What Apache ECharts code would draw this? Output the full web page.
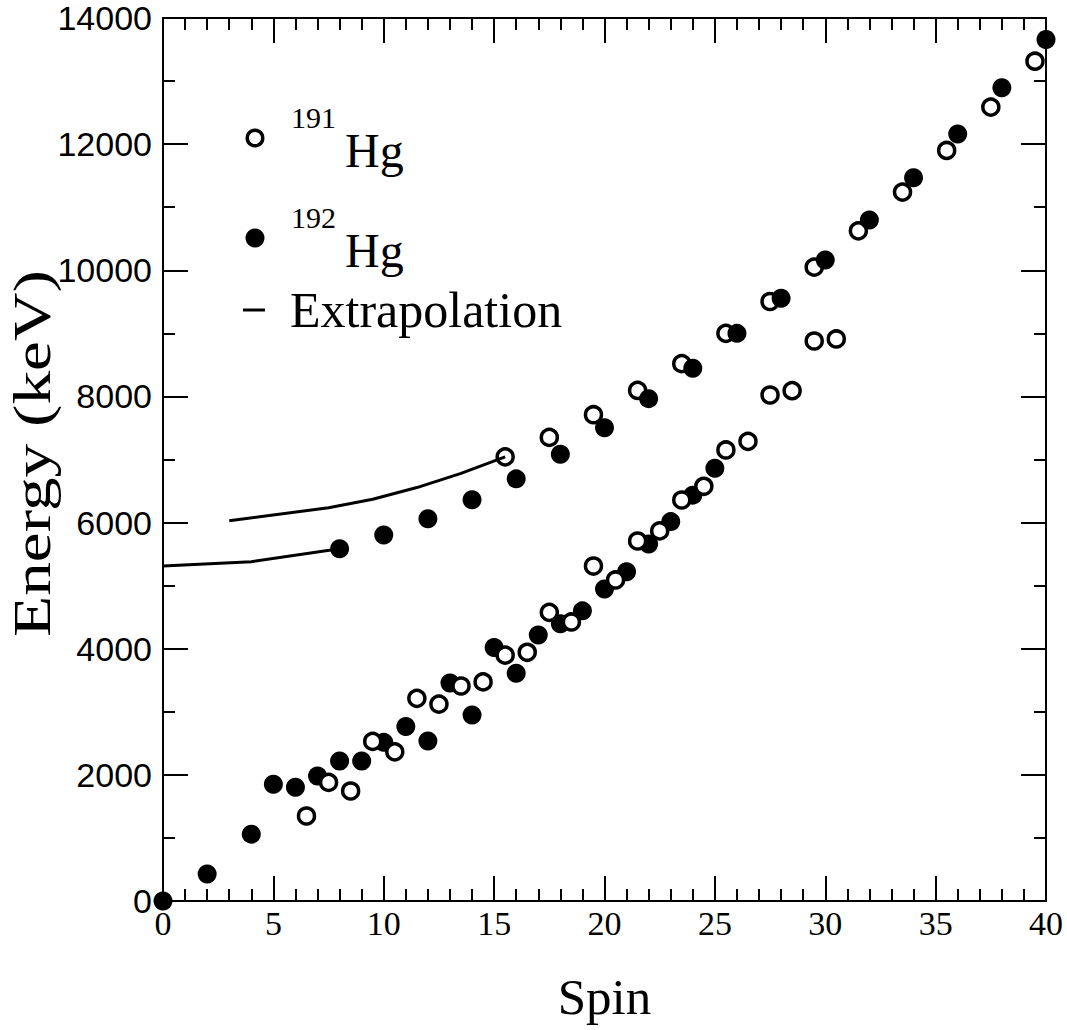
<!DOCTYPE html>
<html>
<head>
<meta charset="utf-8">
<script src="https://cdn.jsdelivr.net/npm/echarts@6/dist/echarts.min.js"></script>
<style>
html,body{margin:0;padding:0;background:#fff;}
#chart{width:1067px;height:1030px;}
</style>
</head>
<body>
<div id="chart"></div>
<script>
// ---- data ----
const spinRange = [0, 40];
const spinInterval = 5;
const energyRange = [0, 14000];
const energyInterval = 2000;

// 191Hg (open circles)
const hg191Ground = [
  [6.5,1348],[7.5,1880],[8.5,1744],[9.5,2530],[10.5,2365],[11.5,3213],[12.5,3121],
  [13.5,3409],[14.5,3474],[15.5,3898],[16.5,3943],[17.5,4577],[18.5,4424],[19.5,5311],
  [20.5,5090],[21.5,5708],[22.5,5868],[23.5,6358],[24.5,6575],[25.5,7151],[26.5,7288],
  [27.5,8023],[28.5,8091],[29.5,8879],[30.5,8911]
];
const hg191Band = [
  [15.5,7042],[17.5,7350],[19.5,7710],[21.5,8095],[23.5,8520],[25.5,9000],[27.5,9505],
  [29.5,10050],[31.5,10625],[33.5,11240],[35.5,11900],[37.5,12587],[39.5,13315]
];

// 192Hg (filled circles)
const hg192Ground = [
  [0,0],[2,428],[4,1060],[5,1850],[6,1805],[7,1982],[8,2220],[9,2220],[10,2515],
  [11,2768],[12,2537],[13,3455],[14,2950],[15,4018],[16,3612],[17,4218],[18,4395],
  [19,4600],[20,4947],[21,5220],[22,5660],[23,6015],[24,6435],[25,6862]
];
const hg192Band = [
  [8,5585],[10,5803],[12,6062],[14,6363],[16,6693],[18,7084],[20,7503],[22,7965],
  [24,8448],[26,9000],[28,9556],[30,10163],[32,10798],[34,11466],[36,12161],[38,12893],[40,13660]
];

// Extrapolation curves
const extrap191 = [[3,6030],[7.5,6235],[9.5,6370],[11.5,6555],[13.5,6780],[15.5,7042]];
const extrap192 = [[0,5310],[4,5380],[8,5585]];

const seriesNames = ['191Hg', '192Hg', 'Extrapolation'];

// ---- chart ----
const serif = 'Liberation Serif';
const sans = 'Liberation Sans';

const chart = echarts.init(document.getElementById('chart'), null, {renderer: 'svg'});

function xAxisBase(pos, showLabel) {
  return {
    type: 'value', position: pos,
    min: spinRange[0], max: spinRange[1], interval: spinInterval,
    axisLine: {show: true, onZero: false, lineStyle: {color: '#000', width: 2}},
    axisTick: {show: true, inside: true, length: 25, lineStyle: {color: '#000', width: 2}},
    minorTick: {show: true, splitNumber: 5, length: 12, lineStyle: {color: '#000', width: 2}},
    splitLine: {show: false}, minorSplitLine: {show: false},
    axisLabel: {show: showLabel, color: '#000', fontFamily: serif, fontSize: 34, margin: 5,
      formatter: v => String(v)}
  };
}
function yAxisBase(pos, showLabel) {
  return {
    type: 'value', position: pos,
    min: energyRange[0], max: energyRange[1], interval: energyInterval,
    axisLine: {show: true, onZero: false, lineStyle: {color: '#000', width: 2}},
    axisTick: {show: true, inside: true, length: 25, lineStyle: {color: '#000', width: 2}},
    minorTick: {show: true, splitNumber: 2, length: 12, lineStyle: {color: '#000', width: 2}},
    splitLine: {show: false}, minorSplitLine: {show: false},
    axisLabel: {show: showLabel, color: '#000', fontFamily: sans, fontSize: 34, margin: 11,
      formatter: v => String(v)}
  };
}

const xMain = xAxisBase('bottom', true);
xMain.name = 'Spin';
xMain.nameLocation = 'middle';
xMain.nameGap = 70;
xMain.nameTextStyle = {color: '#000', fontFamily: serif, fontSize: 51};

const openStyle = {color: '#fff', borderColor: '#000', borderWidth: 3.5, opacity: 1};
const fillStyle = {color: '#000', opacity: 1};

const supRich = {
  s: {fontFamily: serif, fontSize: 30, lineHeight: 20, verticalAlign: 'top', color: '#000'},
  b: {fontFamily: serif, fontSize: 48, lineHeight: 72, verticalAlign: 'bottom', color: '#000', padding: [0, 0, 0, 9]}
};

const option = {
  animation: false,
  backgroundColor: '#fff',
  grid: {left: 163, right: 21, top: 18, bottom: 129, containLabel: false, outerBoundsMode: 'none'},
  xAxis: [xMain, xAxisBase('top', false)],
  yAxis: [yAxisBase('left', true), yAxisBase('right', false)],
  legend: [
    {
      data: [seriesNames[0]], orient: 'vertical', left: 245.5, top: 102, padding: 0,
      itemWidth: 62, itemHeight: 15.5, icon: 'circle', selectedMode: false,
      itemStyle: {borderWidth: 3.5, opacity: 1},
      formatter: () => '{s|191}{b|Hg}',
      textStyle: {fontFamily: serif, color: '#000', rich: supRich}
    },
    {
      data: [seriesNames[1]], orient: 'vertical', left: 245.5, top: 202, padding: 0,
      itemWidth: 62, itemHeight: 19, icon: 'circle', selectedMode: false,
      itemStyle: {borderWidth: 0, opacity: 1},
      formatter: () => '{s|192}{b|Hg}',
      textStyle: {fontFamily: serif, color: '#000', rich: supRich}
    },
    {
      data: [seriesNames[2]], orient: 'vertical', left: 243, top: 270.5, padding: 0,
      itemWidth: 62, itemHeight: 3, icon: 'path://M0 0H22V3H0Z', selectedMode: false,
      symbolKeepAspect: true,
      itemStyle: {color: '#000', borderWidth: 0, opacity: 1},
      textStyle: {fontFamily: serif, fontSize: 50, lineHeight: 50, color: '#000', padding: [0, 0, 29, 0]}
    }
  ],
  graphic: [{
    type: 'text', x: 32.5, y: 453.5, rotation: Math.PI / 2, scaleX: 1.27, scaleY: 1,
    style: {text: 'Energy (keV)', fontFamily: serif, fontSize: 53, fill: '#000', align: 'center', verticalAlign: 'middle'}
  }],
  series: [
    {name: seriesNames[1], type: 'scatter', data: hg192Ground, symbol: 'circle', symbolSize: 19, itemStyle: fillStyle, clip: false},
    {name: seriesNames[0], type: 'scatter', data: hg191Ground, symbol: 'circle', symbolSize: 16, itemStyle: openStyle, clip: false},
    {name: seriesNames[0], type: 'scatter', data: hg191Band, symbol: 'circle', symbolSize: 16, itemStyle: openStyle, clip: false},
    {name: seriesNames[1], type: 'scatter', data: hg192Band, symbol: 'circle', symbolSize: 19, itemStyle: fillStyle, clip: false},
    {name: seriesNames[2], type: 'line', data: extrap192, symbol: 'none', showSymbol: false, color: '#000', lineStyle: {color: '#000', width: 3}, itemStyle: {color: '#000'}, clip: false},
    {name: seriesNames[2], type: 'line', data: extrap191, symbol: 'none', showSymbol: false, color: '#000', lineStyle: {color: '#000', width: 3}, itemStyle: {color: '#000'}, clip: false}
  ]
};
chart.setOption(option);
</script>
</body>
</html>
